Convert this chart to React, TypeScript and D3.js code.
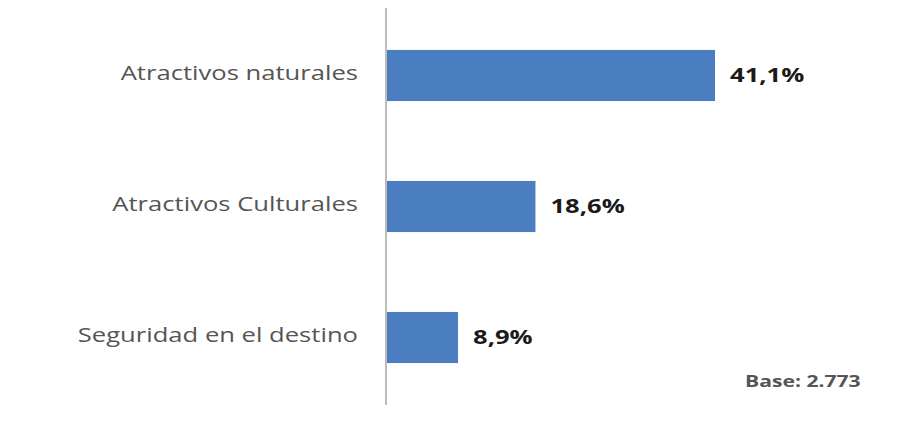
import React from "react";
import * as d3 from "d3";

const categories = ["Atractivos naturales", "Atractivos Culturales", "Seguridad en el destino"];
const values = [41.1, 18.6, 8.9];
const valueLabels = ["41,1%", "18,6%", "8,9%"];
const baseNote = "Base: 2.773";

export default function App() {
  const W = 906, H = 441;
  const sx = 1.28;
  const x = d3.scaleLinear().domain([0, 41.1]).range([387, 715]);
  const y = d3.scaleBand<string>().domain(categories).range([10, 403]).paddingInner(0.61).paddingOuter(0.305);
  const font = "'Open Sans', sans-serif";
  return (
    <svg width={W} height={H} style={{ position: "absolute", left: 0, top: 0, background: "#fff" }}>
      <rect width={W} height={H} fill="#fff" />
      {categories.map((c, i) => {
        const cy = y(c)! + y.bandwidth() / 2;
        return (
          <g key={c}>
            <rect x={x(0)} y={y(c)!} width={x(values[i]) - x(0)} height={y.bandwidth()} fill="#4a7ec0" />
            <text transform={`translate(358,${cy + 4.5}) scale(${sx},1)`} textAnchor="end"
              fontFamily={font} fontSize={20} fill="#555555">{c}</text>
            <text transform={`translate(${x(values[i]) + 15},${cy + 6}) scale(${sx},1)`}
              fontFamily={font} fontSize={20} fontWeight="bold" fill="#1a1a1a">{valueLabels[i]}</text>
          </g>
        );
      })}
      <line x1={386} x2={386} y1={8} y2={405} stroke="#a6a6a6" strokeWidth={1.5} />
      <text transform={`translate(745,387) scale(${sx},1)`} fontFamily={font} fontSize={16.5} fontWeight="bold" fill="#555555">{baseNote}</text>
    </svg>
  );
}
